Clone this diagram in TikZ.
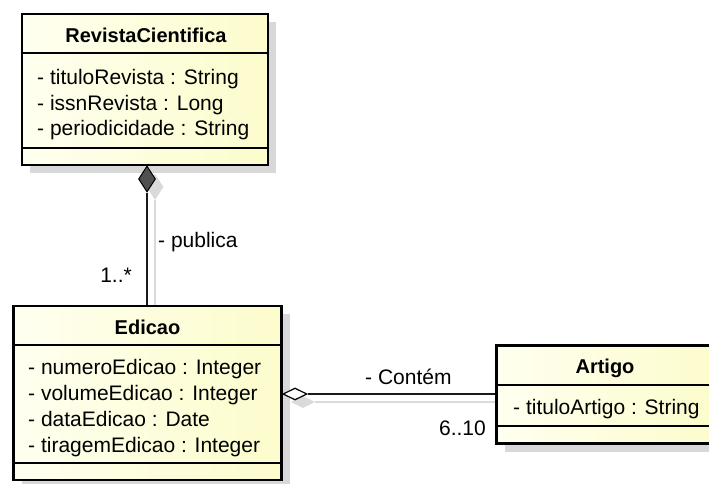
\documentclass[tikz,border=0pt]{standalone}
\usepackage{fontspec}
\setmainfont{Liberation Sans}
\usetikzlibrary{shadows,shapes.geometric}
\definecolor{boxfillA}{RGB}{255,255,240}
\definecolor{boxfillB}{RGB}{252,252,204}
\definecolor{shadecol}{RGB}{216,216,216}
\definecolor{edgecol}{RGB}{25,25,25}
\definecolor{edgeshadow}{RGB}{218,218,218}
\definecolor{diamfill}{RGB}{80,80,80}
\begin{document}
\begin{tikzpicture}[x=1pt,y=-1pt,
  classbox/.style={rectangle, draw=black, line width=2.8pt, inner sep=0pt,
    left color=boxfillA, right color=boxfillB,
    drop shadow={shadow xshift=8pt, shadow yshift=-8pt, fill=shadecol, opacity=1}},
  sepline/.style={draw=black, line width=1.4pt},
  titletext/.style={font=\fontsize{20}{24}\selectfont\bfseries, anchor=base, inner sep=0pt},
  attrtext/.style={font=\fontsize{21}{25}\selectfont, anchor=base west, inner sep=0pt},
  lbltext/.style={font=\fontsize{21}{25}\selectfont, inner sep=0pt},
  conn/.style={draw=edgecol, line width=1.4pt},
  connshadow/.style={draw=edgeshadow, line width=1.4pt},
  compdiamond/.style={diamond, draw=black, line width=1pt, fill=diamfill, inner sep=0pt, minimum width=17pt, minimum height=26pt},
  aggdiamond/.style={diamond, draw=black, line width=1.2pt, fill=white, inner sep=0pt, minimum width=24pt, minimum height=12pt},
  shadiamond/.style={diamond, fill=edgeshadow, inner sep=0pt}
]
\useasboundingbox (0,0) rectangle (709,483);
\clip (0,0) rectangle (709,483);

% connector shadows
\node[shadiamond, minimum width=17pt, minimum height=26pt] (d1s) at (155,187) {};
\node[shadiamond, minimum width=24pt, minimum height=12pt] (d2s) at (303,402) {};
\coordinate (c1s) at (155,315);
\coordinate (c2s) at (507,402);
\draw[connshadow] (d1s.south) -- (c1s);
\draw[connshadow] (d2s.east) -- (c2s);

% classes
\node[classbox, minimum width=246pt, minimum height=151pt] (rev) at (145,89.5) {};
\node[classbox, minimum width=268pt, minimum height=174pt] (edi) at (147.5,393) {};
\node[classbox, minimum width=217pt, minimum height=98pt] (art) at (605,394.5) {};

% separators
\draw[sepline] (rev.west |- 0,53) -- (rev.east |- 0,53);
\draw[sepline] (rev.west |- 0,148) -- (rev.east |- 0,148);
\draw[sepline] (edi.west |- 0,345) -- (edi.east |- 0,345);
\draw[sepline] (edi.west |- 0,463) -- (edi.east |- 0,463);
\draw[sepline] (art.west |- 0,385) -- (art.east |- 0,385);
\draw[sepline] (art.west |- 0,426) -- (art.east |- 0,426);

% texts
\node[titletext] (revt) at (146,42) {RevistaCientifica};
\node[attrtext] (reva1) at (37,84) {- tituloRevista : String};
\node[attrtext] (reva2) at (37,110) {- issnRevista : Long};
\node[attrtext] (reva3) at (37,135.5) {- periodicidade : String};

\node[titletext] (edit) at (147.5,334) {Edicao};
\node[attrtext] (edia1) at (28,374) {- numeroEdicao : Integer};
\node[attrtext] (edia2) at (28,400) {- volumeEdicao : Integer};
\node[attrtext] (edia3) at (28,426) {- dataEdicao : Date};
\node[attrtext] (edia4) at (28,452) {- tiragemEdicao : Integer};

\node[titletext] (artt) at (605,373) {Artigo};
\node[attrtext] (arta1) at (513,414) {- tituloArtigo : String};

% connectors
\node[compdiamond] (d1) at (147,179) {};
\draw[conn] (d1.south) -- (d1.south |- edi.north);
\node[aggdiamond] (d2) at (295,394) {};
\draw[conn] (d2.east) -- (d2.east -| art.west);

% labels
\node[lbltext, anchor=base west] (lpub) at (158,247) {- publica};
\node[lbltext, anchor=base east] (lm1) at (132,282) {1..*};
\node[lbltext, anchor=base west] (lcont) at (365,384) {- Contém};
\node[lbltext, anchor=base east] (lm2) at (486,435) {6..10};
\end{tikzpicture}
\end{document}
